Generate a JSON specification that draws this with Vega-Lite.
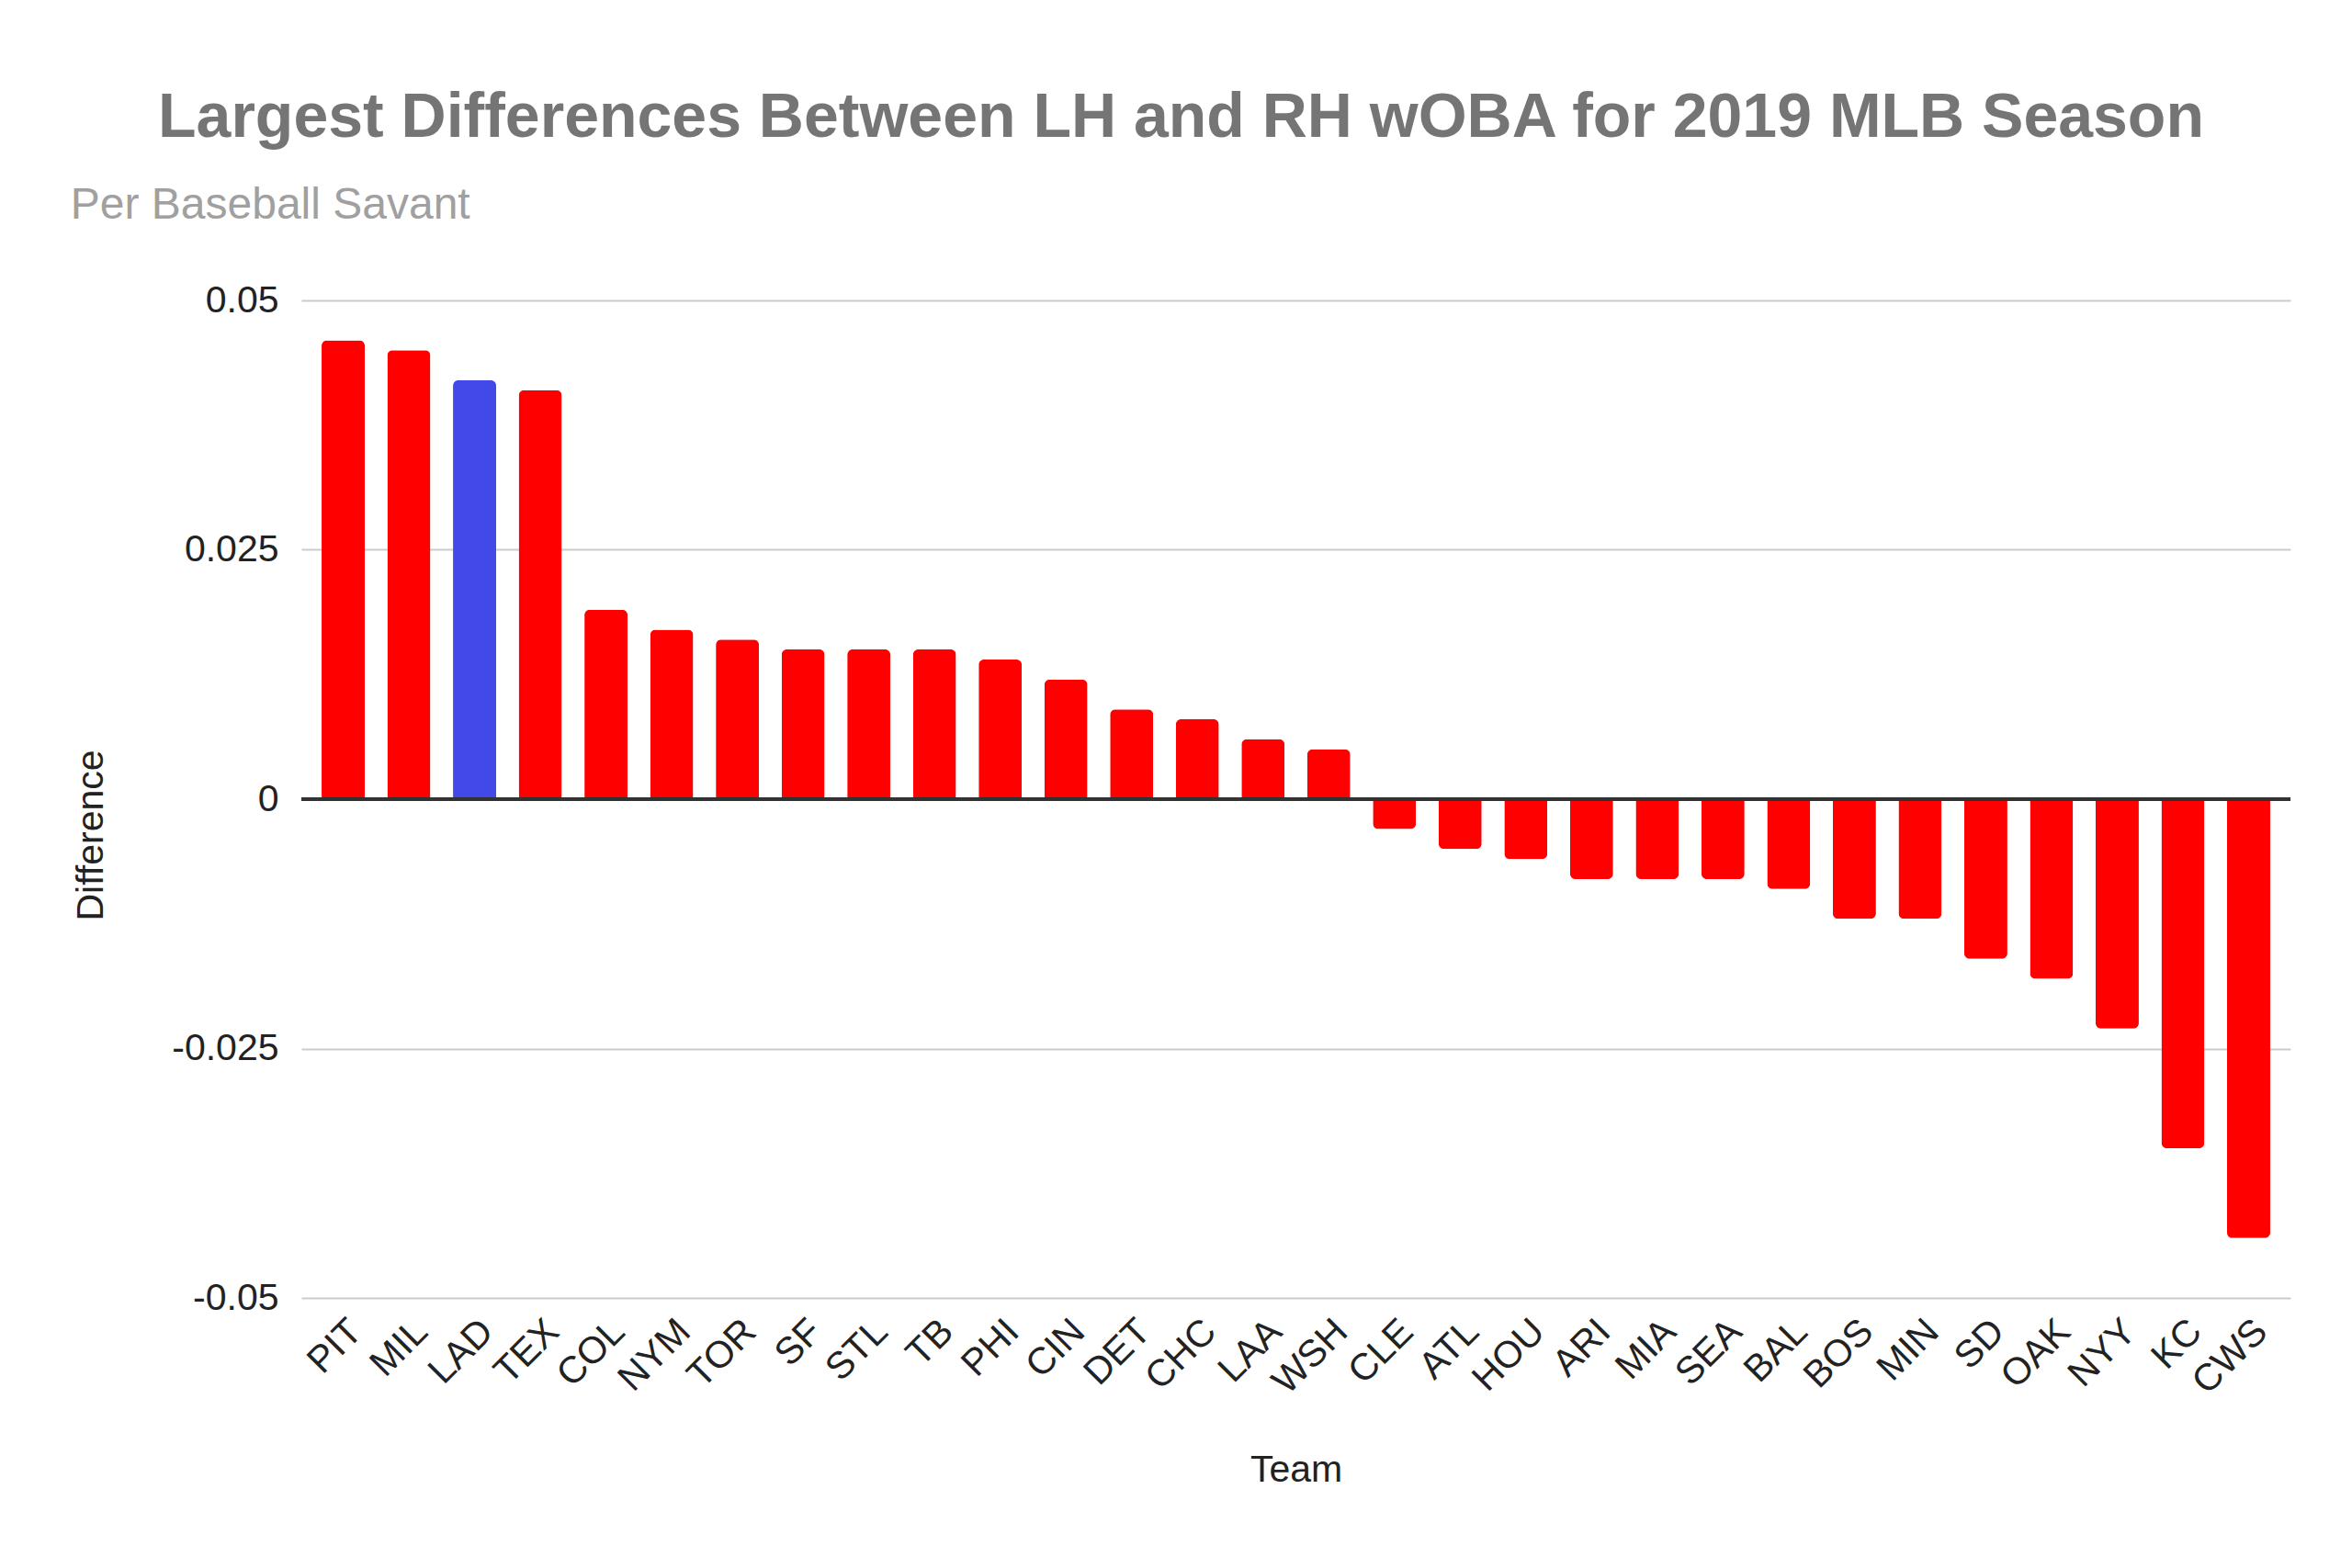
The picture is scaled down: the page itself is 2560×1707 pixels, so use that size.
{
  "$schema": "https://vega.github.io/schema/vega-lite/v6.json",
  "background": "white",
  "padding": {"left": 76, "top": 95, "right": 58, "bottom": 20},
  "config": {
    "font": "Liberation Sans",
    "view": {"stroke": null},
    "axis": {"labelFont": "Liberation Sans", "titleFont": "Liberation Sans"},
    "title": {"font": "Liberation Sans"}
  },
  "title": {
    "text": "Largest Differences Between LH and RH wOBA for 2019 MLB Season",
    "fontSize": 68,
    "fontWeight": "bold",
    "color": "#757575",
    "anchor": "middle",
    "dx": 0,
    "offset": 37
  },
  "vconcat": [
    {
      "title": {
        "text": "Per Baseball Savant",
        "fontSize": 48,
        "fontWeight": "normal",
        "color": "#a0a0a0",
        "anchor": "start",
        "frame": "bounds",
        "dx": -2,
        "offset": 58
      },
      "width": 2165,
      "height": 1086,
      "data": {
        "values": [
          {"Team": "PIT", "Difference": 0.046},
          {"Team": "MIL", "Difference": 0.045},
          {"Team": "LAD", "Difference": 0.042},
          {"Team": "TEX", "Difference": 0.041},
          {"Team": "COL", "Difference": 0.019},
          {"Team": "NYM", "Difference": 0.017},
          {"Team": "TOR", "Difference": 0.016},
          {"Team": "SF", "Difference": 0.015},
          {"Team": "STL", "Difference": 0.015},
          {"Team": "TB", "Difference": 0.015},
          {"Team": "PHI", "Difference": 0.014},
          {"Team": "CIN", "Difference": 0.012},
          {"Team": "DET", "Difference": 0.009},
          {"Team": "CHC", "Difference": 0.008},
          {"Team": "LAA", "Difference": 0.006},
          {"Team": "WSH", "Difference": 0.005},
          {"Team": "CLE", "Difference": -0.003},
          {"Team": "ATL", "Difference": -0.005},
          {"Team": "HOU", "Difference": -0.006},
          {"Team": "ARI", "Difference": -0.008},
          {"Team": "MIA", "Difference": -0.008},
          {"Team": "SEA", "Difference": -0.008},
          {"Team": "BAL", "Difference": -0.009},
          {"Team": "BOS", "Difference": -0.012},
          {"Team": "MIN", "Difference": -0.012},
          {"Team": "SD", "Difference": -0.016},
          {"Team": "OAK", "Difference": -0.018},
          {"Team": "NYY", "Difference": -0.023},
          {"Team": "KC", "Difference": -0.035},
          {"Team": "CWS", "Difference": -0.044}
        ]
      },
      "encoding": {
        "x": {
          "field": "Team",
          "type": "nominal",
          "sort": null,
          "title": "Team",
          "scale": {"paddingInner": 0.343, "paddingOuter": 0.308},
          "axis": {
            "labelAngle": -45,
            "labelFontSize": 41,
            "labelColor": "#222222",
            "labelPadding": 16,
            "ticks": false,
            "domain": false,
            "titleFontSize": 41,
            "titleFontWeight": "normal",
            "titleColor": "#222222",
            "titlePadding": 56
          }
        },
        "y": {
          "field": "Difference",
          "type": "quantitative",
          "title": "Difference",
          "scale": {"domain": [-0.05, 0.05], "nice": false},
          "axis": {
            "values": [-0.05, -0.025, 0, 0.025, 0.05],
            "labelExpr": "'' + datum.value",
            "labelFontSize": 41,
            "labelColor": "#222222",
            "labelPadding": 25,
            "ticks": false,
            "domain": false,
            "gridColor": "#cccccc",
            "gridWidth": 2,
            "titleFontSize": 41,
            "titleFontWeight": "normal",
            "titleColor": "#222222",
            "titlePadding": 66,
            "titleY": 582
          }
        },
        "color": {
          "condition": {"test": "datum.Team == 'LAD'", "value": "#4249e8"},
          "value": "#ff0000"
        }
      },
      "layer": [
        {
          "transform": [{"filter": "datum.Difference >= 0"}],
          "mark": {"type": "bar", "cornerRadiusTopLeft": 6, "cornerRadiusTopRight": 6}
        },
        {
          "transform": [{"filter": "datum.Difference < 0"}],
          "mark": {"type": "bar", "cornerRadiusBottomLeft": 6, "cornerRadiusBottomRight": 6}
        },
        {
          "mark": {"type": "rule", "color": "#333333", "strokeWidth": 2.5},
          "encoding": {"y": {"datum": 0}, "x": null, "color": null}
        }
      ]
    }
  ]
}
